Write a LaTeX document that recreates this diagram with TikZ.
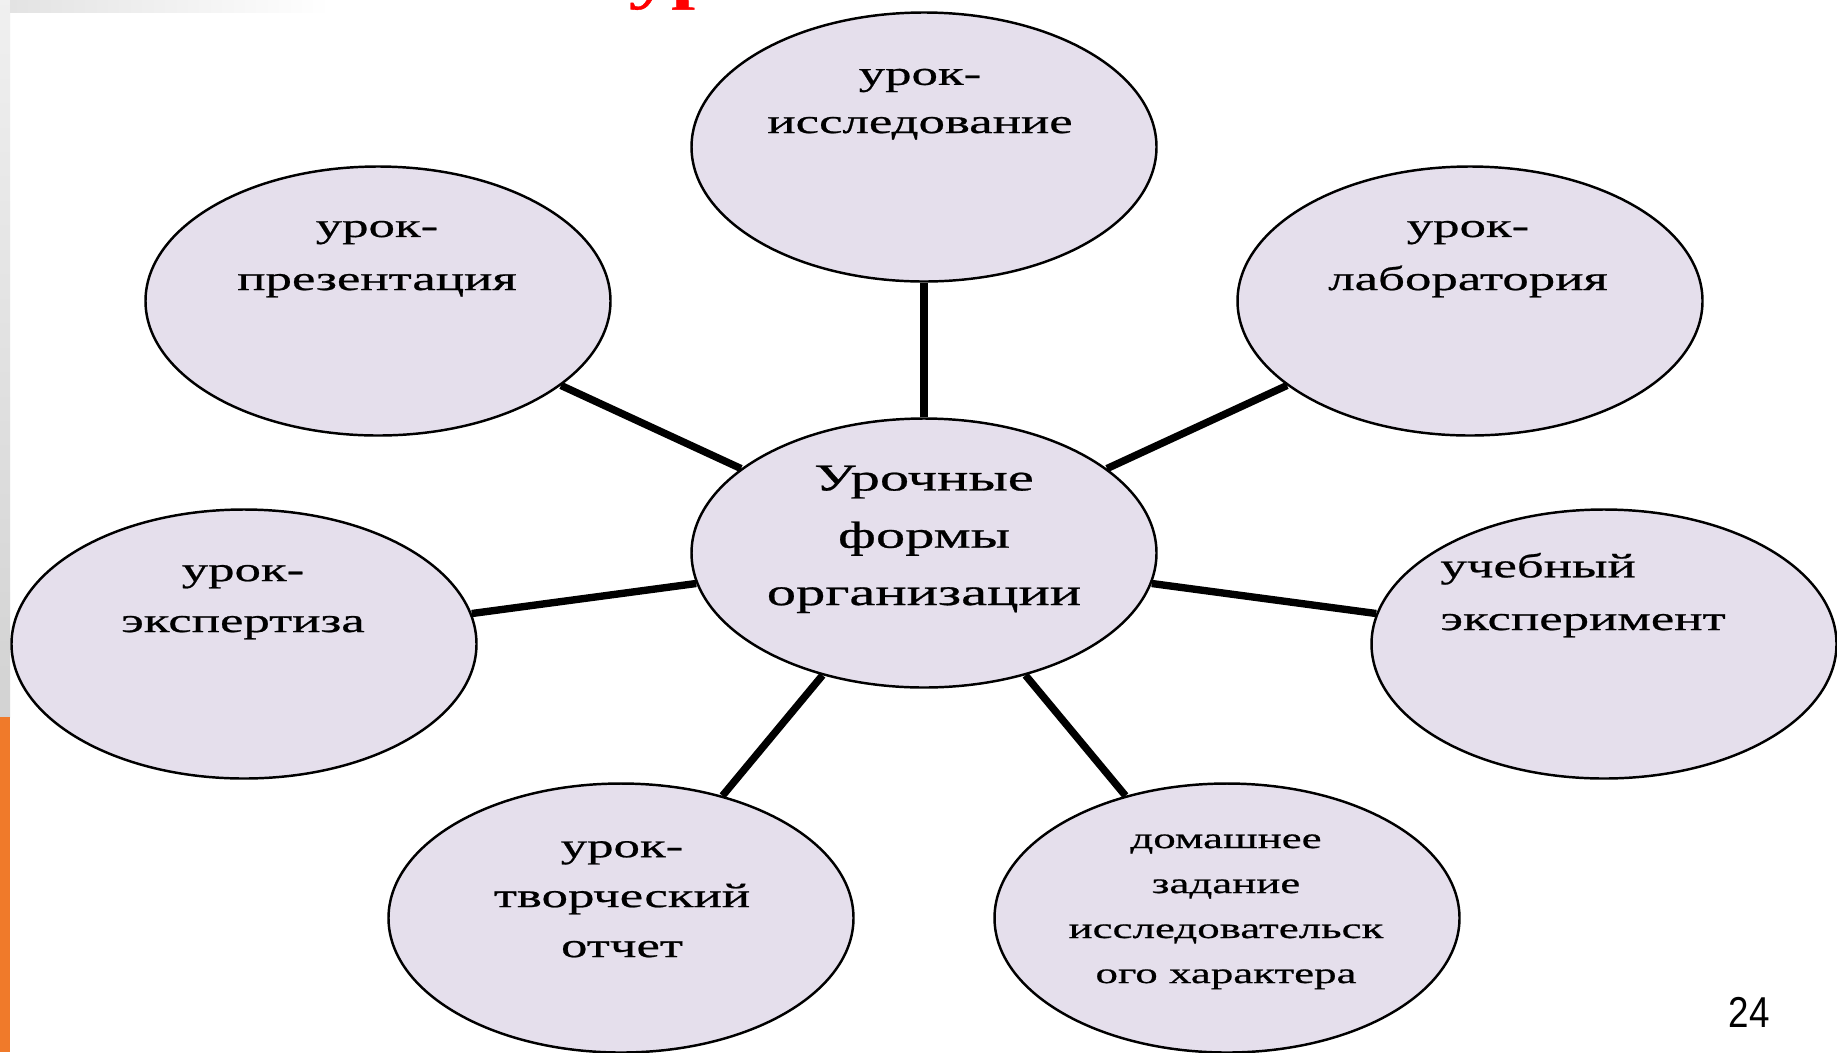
\documentclass[tikz,border=0pt]{standalone}
\usepackage{fontspec}
\setmainfont{Liberation Serif}[FakeStretch=1.55, FakeBold=0.7]
\newfontfamily\pagenumfont{Liberation Sans}[FakeStretch=0.85]
\usetikzlibrary{positioning,shapes.geometric}
\definecolor{bubbleFill}{RGB}{229,223,236}
\definecolor{stripOrange}{RGB}{240,122,42}
\definecolor{titleRed}{RGB}{255,0,0}

\begin{document}
\begin{tikzpicture}[x=0.1mm, y=-0.1mm]

    %
    % Styles for bubbles, labels and spokes
    %
    \tikzstyle{bubble} = [ellipse, draw=black, line width=0.7pt, fill=bubbleFill,
                          minimum width=46.5mm, minimum height=26.9mm, inner sep=0pt]
    \tikzstyle{bubbleText} = [align=center, anchor=base, inner sep=0pt,
                          font={\fontsize{9.7}{14.5}\selectfont}]
    \tikzstyle{spoke} = [black, line width=2.1pt];

    %
    % Slide background
    %
    \useasboundingbox (0,0) rectangle (1837,1052);
    \fill[white] (0,0) rectangle (1837,1052);
    \shade[top color=gray!12, bottom color=gray!35] (0,0) rectangle (10,717);
    \fill[stripOrange] (0,717) rectangle (10,1052);
    \shade[left color=gray!22, right color=white] (10,0) rectangle (330,12);
    \begin{scope}
      \clip (0,0) rectangle (1837,13);
      \node[anchor=base west, inner sep=0pt, text=titleRed,
            font={\fontsize{15.6}{18}\selectfont\bfseries}, name=titleText] at (628,-2) {ур};
    \end{scope}

    %
    % Position bubbles
    %
    \node[bubble, name=hub] at (924,553) {};
    \node[bubble, name=research] at (924,147) {};
    \node[bubble, name=presentation] at (378,301) {};
    \node[bubble, name=laboratory] at (1470,301) {};
    \node[bubble, name=expertise] at (244,644) {};
    \node[bubble, name=experiment] at (1604,644) {};
    \node[bubble, name=report] at (621,918) {};
    \node[bubble, name=homework] at (1227,918) {};

    %
    % Bubble texts (anchored at the baseline of their last line)
    %
    \node[bubbleText, name=hubText, font={\fontsize{10.75}{16.3}\selectfont}] at (924,605) {Урочные\\формы\\организации};
    \node[bubbleText, name=researchText, font={\fontsize{9.7}{13.7}\selectfont}] at (920,133) {урок-\\исследование};
    \node[bubbleText, name=presentationText, font={\fontsize{9.7}{15.1}\selectfont}] at (377,290) {урок-\\презентация};
    \node[bubbleText, name=laboratoryText, font={\fontsize{9.7}{15.1}\selectfont}] at (1468,290) {урок-\\лаборатория};
    \node[bubbleText, name=expertiseText] at (243,632) {урок-\\экспертиза};
    \node[bubbleText, name=experimentText, align=left, font={\fontsize{9.7}{15}\selectfont}] at (1583,630) {учебный\\эксперимент};
    \node[bubbleText, name=reportText, font={\fontsize{9.7}{14.2}\selectfont}] at (622,957) {урок-\\творческий\\отчет};
    \node[bubbleText, name=homeworkText, font={\fontsize{8.25}{12.8}\selectfont}] at (1226,983) {домашнее\\задание\\исследовательск\\ого характера};

    \node[font={\pagenumfont\fontsize{12.3}{14}\selectfont}, name=pageNum] at (1749,1012) {24};

    %
    % Connect bubbles via spokes
    %
    \draw (hub) edge[spoke] (research);
    \draw (hub) edge[spoke] (presentation);
    \draw (hub) edge[spoke] (laboratory);
    \draw (hub) edge[spoke] (expertise);
    \draw (hub) edge[spoke] (experiment);
    \draw (hub) edge[spoke] (report);
    \draw (hub) edge[spoke] (homework);
\end{tikzpicture}
\end{document}
